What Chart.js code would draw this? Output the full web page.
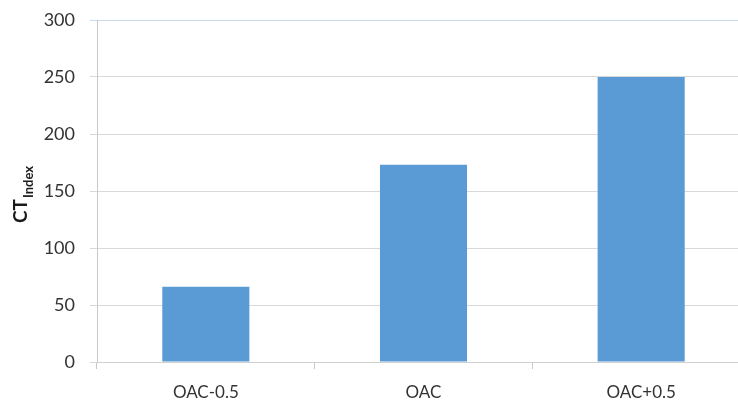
<!DOCTYPE html>
<html>
<head>
<meta charset="utf-8">
<script src="https://cdn.jsdelivr.net/npm/chart.js@4"></script>
<style>
  html, body { margin: 0; padding: 0; background: #fff; overflow: hidden; }
  #wrap { width: 752px; height: 406px; }
</style>
</head>
<body>
<div id="wrap"><canvas id="grafico" width="752" height="406"></canvas></div>
<script>
const categorias = ['OAC-0.5', 'OAC', 'OAC+0.5'];
const valores = [66, 173, 250];
const ticksY = [0, 50, 100, 150, 200, 250, 300];

const fuente = 'Lato, "Liberation Sans", sans-serif';
const gris = '#333333';

// Título del eje Y con subíndice: CT_Index
const tituloY = {
  id: 'tituloY',
  afterDraw(chart) {
    const ctx = chart.ctx;
    ctx.save();
    ctx.translate(27, 195);
    ctx.rotate(-Math.PI / 2);
    ctx.fillStyle = '#1a1a1a';
    ctx.textBaseline = 'alphabetic';
    ctx.font = 'bold 19px ' + fuente;
    const w1 = ctx.measureText('CT').width;
    ctx.font = 'bold 13px ' + fuente;
    const w2 = ctx.measureText('Index').width;
    const x0 = -(w1 + w2) / 2;
    ctx.font = 'bold 19px ' + fuente;
    ctx.fillText('CT', x0, 0);
    ctx.font = 'bold 13px ' + fuente;
    ctx.fillText('Index', x0 + w1 + 1, 6);
    ctx.restore();
  }
};

new Chart(document.getElementById('grafico'), {
  type: 'bar',
  data: {
    labels: categorias,
    datasets: [{
      data: valores,
      backgroundColor: '#5b9bd5',
      barPercentage: 0.4,
      categoryPercentage: 1.0
    }]
  },
  options: {
    responsive: false,
    animation: false,
    layout: { padding: { top: 20, right: 2, left: 0, bottom: 0 } },
    plugins: { legend: { display: false }, tooltip: { enabled: false } },
    scales: {
      x: {
        offset: true,
        afterFit(s) { s.height = 44; },
        border: { color: '#d0d0d0', width: 1 },
        grid: {
          offset: true,
          drawOnChartArea: false,
          drawTicks: true,
          tickLength: 7,
          color: '#c8c8c8'
        },
        ticks: { color: gris, padding: 13, font: { family: fuente, size: 17 } }
      },
      y: {
        min: 0,
        max: 300,
        afterFit(s) {
          s.width = 97;
          s.paddingTop = 0;
          s.paddingBottom = 0;
        },
        afterBuildTicks(s) { s.ticks = ticksY.map(v => ({ value: v })); },
        border: { color: '#c8c8c8', width: 1 },
        grid: {
          color: ctx => ctx.tick && ctx.tick.value === 300 ? '#c9dcee' : '#d9d9d9',
          tickLength: 7,
          lineWidth: 1
        },
        ticks: { color: gris, padding: 15, font: { family: fuente, size: 18 } }
      }
    }
  },
  plugins: [tituloY]
});
</script>
</body>
</html>
